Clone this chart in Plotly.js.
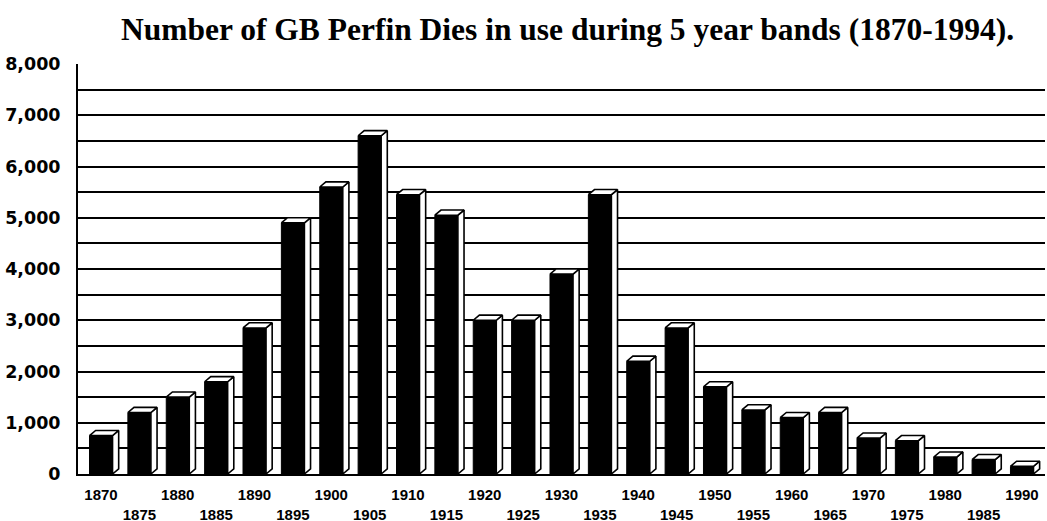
<!DOCTYPE html>
<html>
<head>
<meta charset="utf-8">
<script src="https://cdn.plot.ly/plotly-3.0.1.min.js"></script>
<style>
html,body{margin:0;padding:0;background:#fff;}
#chart{width:1047px;height:521px;}
</style>
</head>
<body>
<div id="chart"></div>
<script>
// Data
var years = ["1870","1875","1880","1885","1890","1895","1900","1905","1910","1915","1920","1925","1930","1935","1940","1945","1950","1955","1960","1965","1970","1975","1980","1985","1990"];
var dies = [750, 1200, 1500, 1800, 2850, 4900, 5600, 6600, 5450, 5050, 3000, 3000, 3900, 5450, 2200, 2850, 1700, 1250, 1100, 1200, 700, 650, 330, 280, 150];

// Styling constants for the pseudo-3D look
var barW = 0.6;     // bar width in category units
var depthX = 0.16;  // depth offset in category units
var depthY = 100;   // depth offset in value units

var idx = years.map(function(_, i){ return i; });
var tickText = years.map(function(y, i){ return i % 2 === 0 ? y : "<br>" + y; });

// Build top and side faces from the data values
var topX = [], topY = [], sideX = [], sideY = [];
dies.forEach(function(v, i){
  var l = i - barW/2, r = i + barW/2;
  topX.push(l, r, r + depthX, l + depthX, l, null);
  topY.push(v, v, v + depthY, v + depthY, v, null);
  sideX.push(r, r, r + depthX, r + depthX, r, null);
  sideY.push(0, v, v + depthY, depthY, 0, null);
});

var traces = [
  {
    type: "bar", x: idx, y: dies, width: barW,
    marker: {color: "#000", line: {color: "#000", width: 1}},
    hoverinfo: "skip", showlegend: false
  },
  {
    type: "scatter", mode: "lines", x: sideX, y: sideY,
    fill: "toself", fillcolor: "#fff",
    line: {color: "#000", width: 1.6},
    hoverinfo: "skip", showlegend: false
  },
  {
    type: "scatter", mode: "lines", x: topX, y: topY,
    fill: "toself", fillcolor: "#fff",
    line: {color: "#000", width: 1.6},
    hoverinfo: "skip", showlegend: false
  }
];

var layout = {
  width: 1047, height: 521,
  paper_bgcolor: "#fff", plot_bgcolor: "#fff",
  margin: {l: 78, r: 2, t: 64, b: 47},
  title: {
    text: "<b>Number of GB Perfin Dies in use during 5 year bands (1870-1994).</b>",
    font: {family: "Liberation Serif, Times New Roman, serif", size: 31.5, color: "#000"},
    xref: "container", x: 0.542, xanchor: "center",
    yref: "container", y: 0.945, yanchor: "middle"
  },
  xaxis: {
    range: [-0.6, 24.6],
    tickmode: "array", tickvals: idx, ticktext: tickText,
    tickangle: 0,
    ticks: "", showgrid: false, zeroline: false,
    showline: true, linecolor: "#000", linewidth: 2,
    tickfont: {family: "Liberation Sans Narrow, Liberation Sans, Arial, sans-serif", size: 15, color: "#000", weight: "bold"},
    ticklabelstandoff: 6
  },
  yaxis: {
    range: [0, 8000], dtick: 1000, tickformat: ",d",
    ticks: "", zeroline: false,
    showgrid: true, gridcolor: "#000", gridwidth: 2,
    minor: {dtick: 500, showgrid: true, gridcolor: "#000", gridwidth: 2},
    showline: true, linecolor: "#000", linewidth: 2,
    tickfont: {family: "DejaVu Sans, sans-serif", size: 17.5, color: "#000", weight: "bold"},
    ticklabelstandoff: 12
  },
  bargap: 0.4
};

Plotly.newPlot("chart", traces, layout, {staticPlot: true, displayModeBar: false});
</script>
</body>
</html>
